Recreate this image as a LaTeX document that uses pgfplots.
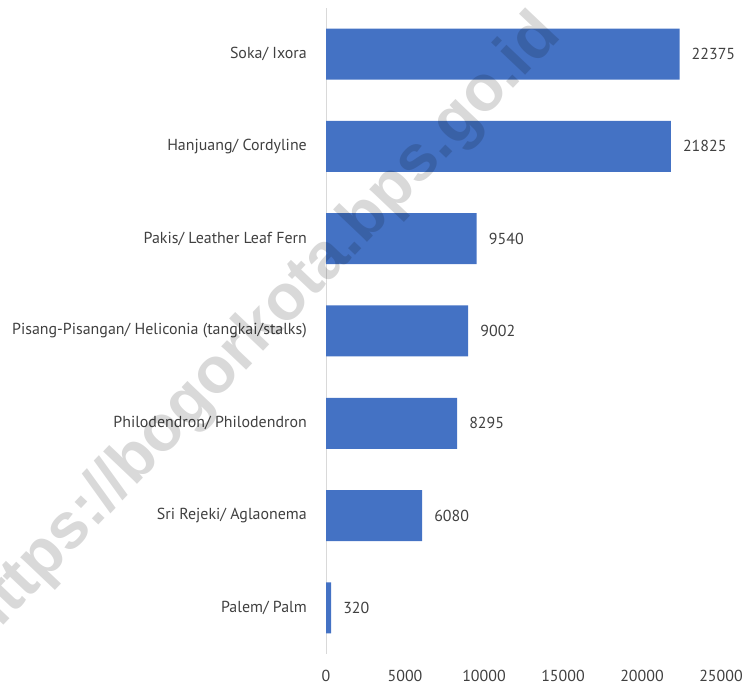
\documentclass[border=0pt]{standalone}
\usepackage{pgfplots}
\pgfplotsset{compat=1.18}
\usepackage{fontspec}
\setmainfont{PT Sans}
\newfontfamily\wmfont{Liberation Sans}
\definecolor{barblue}{HTML}{4472C4}
\definecolor{txt}{HTML}{404040}
\definecolor{axgray}{HTML}{D9D9D9}
\begin{document}
\begin{tikzpicture}[x=1bp,y=1bp]
\useasboundingbox (0,0) rectangle (747,689);
\begin{axis}[
  at={(326bp,35bp)}, anchor=south west,
  scale only axis, width=395bp, height=646bp,
  xmin=0, xmax=25000, ymin=-0.5, ymax=6.5,
  xbar, bar width=51bp,
  axis lines*=left,
  x axis line style={draw=none},
  y axis line style={draw=axgray, line width=1bp},
  major tick length=0pt,
  scaled x ticks=false,
  xtick={0,5000,10000,15000,20000,25000},
  ytick={0,1,2,3,4,5,6},
  yticklabels={Palem/ Palm, Sri Rejeki/ Aglaonema, Philodendron/ Philodendron, Pisang-Pisangan/ Heliconia (tangkai/stalks), Pakis/ Leather Leaf Fern, Hanjuang/ Cordyline, Soka/ Ixora},
  /pgf/number format/.cd, 1000 sep={}, assume math mode=true,
  /pgfplots/.cd,
  tick label style={font=\fontsize{16}{19}\selectfont, text=txt},
  xticklabel style={anchor=center, inner sep=0pt, yshift=-22bp},
  yticklabel style={anchor=east, inner sep=0pt, xshift=-19bp},
  nodes near coords,
  nodes near coords style={anchor=west, inner sep=0pt, xshift=12bp, text=txt, font=\fontsize{16}{19}\selectfont},
]
\addplot[fill=barblue, draw=none] coordinates {
(320,0) (6080,1) (8295,2) (9002,3) (9540,4) (21825,5) (22375,6)
};
\end{axis}
\node[rotate=46.5, opacity=0.15, text=black, font=\wmfont\bfseries\fontsize{65}{70}\selectfont] at (262,360) {https://bogorkota.bps.go.id};
\end{tikzpicture}
\end{document}
